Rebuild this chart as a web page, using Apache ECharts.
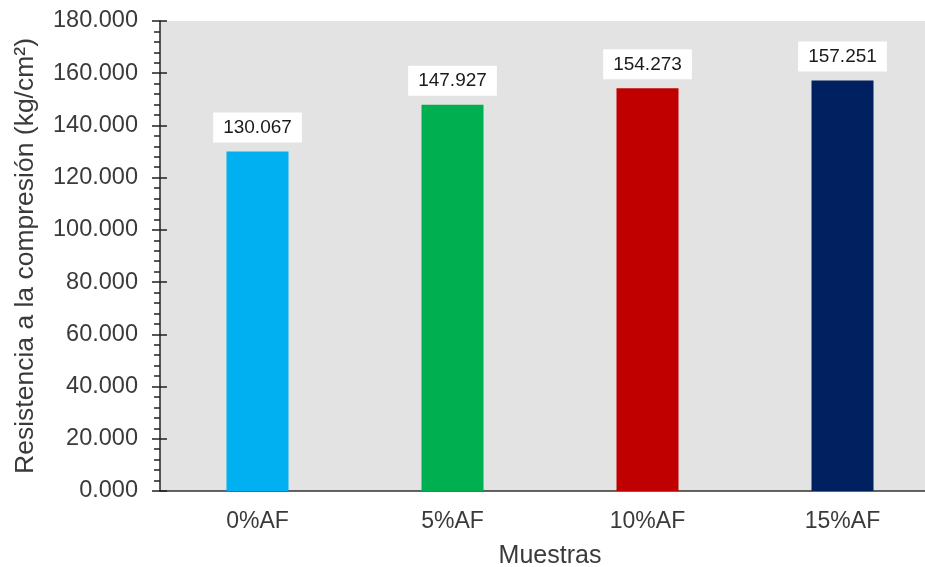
<!DOCTYPE html>
<html>
<head>
<meta charset="utf-8">
<script src="https://cdn.jsdelivr.net/npm/echarts@6/dist/echarts.min.js"></script>
<style>html,body{margin:0;padding:0;background:#fff}#c{width:925px;height:567px}</style>
</head>
<body>
<div id="c"></div>
<script>
const categories = ['0%AF', '5%AF', '10%AF', '15%AF'];
const values = [130.067, 147.927, 154.273, 157.251];
const barColors = ['#00b0f0', '#00b050', '#c00000', '#002060'];
const yMin = 0, yMax = 180, yStep = 20;
const yName = 'Resistencia a la compresión (kg/cm²)';
const xName = 'Muestras';

const font = 'Liberation Sans, Arial, sans-serif';
const chart = echarts.init(document.getElementById('c'));
chart.setOption({
  animation: false,
  grid: { left: 160, width: 780, top: 21, bottom: 76, outerBoundsMode: 'none', containLabel: false, show: true, backgroundColor: '#e3e3e3', borderWidth: 0 },
  xAxis: {
    type: 'category',
    data: categories,
    name: xName,
    nameLocation: 'middle',
    nameGap: 53,
    nameTextStyle: { fontFamily: font, fontSize: 25, color: '#3a3a3a' },
    axisLine: { lineStyle: { color: '#333', width: 1.5 } },
    axisTick: { show: false },
    axisLabel: { fontFamily: font, fontSize: 23, color: '#3a3a3a', margin: 19 }
  },
  yAxis: [{
    type: 'value',
    min: yMin, max: yMax, interval: yStep,
    name: yName,
    nameLocation: 'middle',
    nameGap: 121,
    nameTextStyle: { fontFamily: font, fontSize: 26.5, color: '#3a3a3a' },
    axisLine: { show: true, lineStyle: { color: '#222', width: 1.5 } },
    axisTick: { show: true, length: 8, lineStyle: { color: '#222', width: 1.5 } },
    minorTick: { show: true, splitNumber: 5, length: 6, lineStyle: { color: '#222', width: 1.5 } },
    splitLine: { show: false },
    axisLabel: { fontFamily: font, fontSize: 23.5, color: '#3a3a3a', margin: 22, formatter: v => v.toFixed(3) }
  }, {
    type: 'value',
    position: 'left',
    min: yMin, max: yMax, interval: yStep,
    axisLine: { show: false },
    axisTick: { show: true, inside: true, length: 7, lineStyle: { color: '#222', width: 1.5 } },
    splitLine: { show: false },
    axisLabel: { show: false }
  }],
  series: [{
    type: 'bar',
    data: values.map((v, i) => ({ value: v, itemStyle: { color: barColors[i] } })),
    barWidth: 62,
    label: {
      show: true,
      position: 'top',
      distance: 9,
      backgroundColor: '#fff',
      padding: [5, 10, 4, 10],
      fontFamily: font,
      fontSize: 19,
      lineHeight: 21,
      color: '#1a1a1a',
      formatter: p => p.value.toFixed(3)
    }
  }]
});
</script>
</body>
</html>
